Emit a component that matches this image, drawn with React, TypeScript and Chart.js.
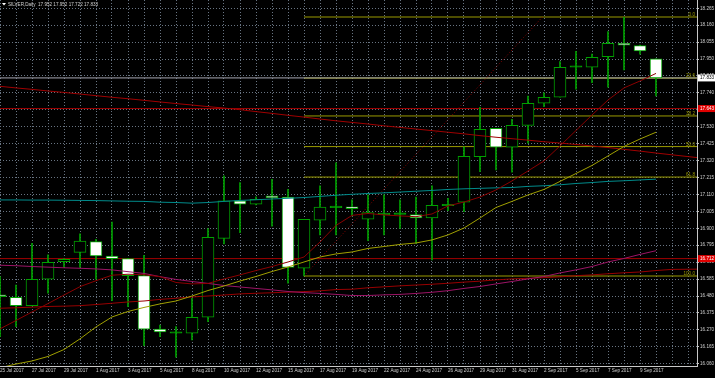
import React, { useEffect, useRef } from 'react';
import { Chart, registerables } from 'chart.js';

Chart.register(...registerables);

const SYMBOL = 'SILVER,Daily';

const DATES = [
  '25 Jul 2017', '26 Jul 2017', '27 Jul 2017', '28 Jul 2017', '29 Jul 2017', '31 Jul 2017',
  '1 Aug 2017', '2 Aug 2017', '3 Aug 2017', '4 Aug 2017', '5 Aug 2017', '7 Aug 2017',
  '8 Aug 2017', '9 Aug 2017', '10 Aug 2017', '11 Aug 2017', '12 Aug 2017', '14 Aug 2017',
  '15 Aug 2017', '16 Aug 2017', '17 Aug 2017', '18 Aug 2017', '19 Aug 2017', '21 Aug 2017',
  '22 Aug 2017', '23 Aug 2017', '24 Aug 2017', '25 Aug 2017', '26 Aug 2017', '28 Aug 2017',
  '29 Aug 2017', '30 Aug 2017', '31 Aug 2017', '1 Sep 2017', '2 Sep 2017', '4 Sep 2017',
  '5 Sep 2017', '6 Sep 2017', '7 Sep 2017', '8 Sep 2017', '9 Sep 2017', '11 Sep 2017',
];
const LAST_LABELED_BAR = 40;

const OPEN = [
  16.487, 16.472, 16.420, 16.584, 16.693, 16.751, 16.817, 16.727, 16.712, 16.606,
  16.274, 16.249, 16.249, 16.348, 16.838, 17.071, 17.049, 17.101, 17.093, 16.652,
  16.950, 17.028, 17.034, 16.956, 16.985, 16.986, 16.985, 16.964, 17.040, 17.062,
  17.344, 17.521, 17.403, 17.539, 17.676, 17.713, 17.899, 17.899, 17.965, 18.048,
  18.033, 17.952,
];
const HIGH = [
  16.600, 16.547, 16.807, 16.736, 16.712, 16.865, 16.832, 16.939, 16.714, 16.733,
  16.300, 16.290, 16.466, 16.898, 17.225, 17.183, 17.096, 17.204, 17.142, 16.956,
  17.163, 17.307, 17.076, 17.107, 17.107, 17.076, 17.093, 17.163, 17.086, 17.406,
  17.651, 17.521, 17.576, 17.721, 17.741, 17.934, 17.998, 17.981, 18.120, 18.209,
  18.037, 17.952,
];
const LOW = [
  16.228, 16.290, 16.418, 16.497, 16.658, 16.658, 16.584, 16.451, 16.414, 16.172,
  16.228, 16.100, 16.207, 16.321, 16.803, 16.873, 17.045, 16.914, 16.559, 16.604,
  16.859, 16.859, 16.977, 16.823, 16.859, 16.900, 16.807, 16.704, 17.009, 17.003,
  17.251, 17.262, 17.248, 17.428, 17.655, 17.713, 17.764, 17.803, 17.775, 17.882,
  17.981, 17.722,
];
const CLOSE = [
  16.476, 16.420, 16.584, 16.689, 16.708, 16.820, 16.728, 16.712, 16.606, 16.274,
  16.257, 16.252, 16.348, 16.844, 17.071, 17.049, 17.080, 17.090, 16.658, 16.956,
  17.031, 17.034, 17.022, 16.997, 16.993, 16.990, 16.964, 17.043, 17.049, 17.347,
  17.514, 17.403, 17.539, 17.676, 17.713, 17.899, 17.907, 17.961, 18.048, 18.037,
  18.000, 17.833,
];

// moving averages (one value per bar)
const MA_LONG_RED = [
  17.781, 17.771, 17.762, 17.752, 17.743, 17.733, 17.723, 17.713, 17.704, 17.694,
  17.684, 17.674, 17.665, 17.655, 17.646, 17.636, 17.624, 17.613, 17.601, 17.590,
  17.578, 17.567, 17.557, 17.547, 17.536, 17.526, 17.516, 17.506, 17.496, 17.486,
  17.475, 17.465, 17.456, 17.447, 17.437, 17.429, 17.420, 17.411, 17.401, 17.390,
  17.379, 17.367, 17.356, 17.345, 17.334,
];
const MA_TEAL = [
  17.076, 17.076, 17.075, 17.075, 17.074, 17.073, 17.072, 17.070, 17.068, 17.067,
  17.062, 17.060, 17.056, 17.060, 17.067, 17.073, 17.077, 17.082, 17.086, 17.091,
  17.098, 17.105, 17.111, 17.116, 17.120, 17.125, 17.130, 17.135, 17.141, 17.145,
  17.148, 17.151, 17.153, 17.160, 17.164, 17.170, 17.178, 17.184, 17.191, 17.195,
  17.200, 17.205,
];
const MA_MAGENTA = [
  16.671, 16.668, 16.663, 16.659, 16.655, 16.652, 16.648, 16.642, 16.631, 16.620,
  16.600, 16.583, 16.570, 16.558, 16.545, 16.536, 16.527, 16.518, 16.508, 16.501,
  16.496, 16.490, 16.483, 16.483, 16.487, 16.490, 16.496, 16.503, 16.513, 16.527,
  16.539, 16.555, 16.570, 16.586, 16.601, 16.623, 16.642, 16.663, 16.691, 16.713,
  16.738, 16.761,
];
const MA_SLOW_RED = [
  16.404, 16.407, 16.411, 16.415, 16.417, 16.420, 16.427, 16.435, 16.443, 16.449,
  16.459, 16.466, 16.474, 16.480, 16.486, 16.493, 16.497, 16.500, 16.504, 16.507,
  16.512, 16.520, 16.522, 16.531, 16.537, 16.543, 16.548, 16.553, 16.559, 16.566,
  16.572, 16.580, 16.586, 16.590, 16.594, 16.599, 16.606, 16.611, 16.618, 16.624,
  16.629, 16.638, 16.645, 16.646, 16.647,
];
const MA_FAST_RED = [
  16.276, 16.328, 16.381, 16.433, 16.486, 16.538, 16.575, 16.609, 16.615, 16.612,
  16.600, 16.564, 16.555, 16.558, 16.586, 16.611, 16.638, 16.663, 16.691, 16.722,
  16.815, 16.918, 16.980, 16.992, 16.983, 16.977, 16.972, 16.989, 17.039, 17.063,
  17.094, 17.138, 17.194, 17.256, 17.318, 17.411, 17.507, 17.603, 17.696, 17.771,
  17.814, 17.861,
];
const MA_YELLOW = [
  16.034, 16.058, 16.077, 16.105, 16.148, 16.214, 16.288, 16.350, 16.384, 16.409,
  16.431, 16.449, 16.480, 16.514, 16.542, 16.573, 16.601, 16.632, 16.660, 16.691,
  16.722, 16.741, 16.753, 16.775, 16.787, 16.800, 16.809, 16.828, 16.859, 16.902,
  16.964, 17.029, 17.067, 17.107, 17.141, 17.191, 17.240, 17.290, 17.349, 17.408,
  17.454, 17.496,
];

const Y_TICKS = [
  16.060, 16.165, 16.270, 16.375, 16.480, 16.585, 16.690, 16.795, 16.900, 17.005, 17.110,
  17.215, 17.320, 17.425, 17.530, 17.635, 17.740, 17.845, 17.950, 18.055, 18.160, 18.265,
];

const FIB_LABELS = ['0.0', '23.6', '38.2', '50.0', '61.8', '100.0'];
const FIB_PRICES = [18.211, 17.832, 17.597, 17.407, 17.218, 16.604];
const FIB_START_BAR = 19;
const FIB_BASE_BARS = [19, 33.9];
const FIB_BASE_PRICES = [16.604, 18.211];
const RED_LEVELS = [17.643, 16.712];

// view
const Y_MIN = 16.0457;
const Y_MAX = 18.3165;
const X_MIN = 0;
const X_MAX = 43.5625;
const GRID_BAR_COUNT = 44;

const FONT = '"Liberation Sans", Arial, sans-serif';
const FONT_SIZE = 4.6;
const BG = '#000000';
const GRID = '#687482';
const AXIS = '#c8c8c8';
const TEXT = '#d0d0d0';
const CANDLE = '#00a000';
const FIB_COLOR = '#9a9a00';

export default function App() {
  const ref = useRef<HTMLCanvasElement>(null);

  useEffect(() => {
    const canvas = ref.current;
    if (!canvas) return;
    const last = CLOSE.length - 1;

    const series = (values: number[], color: string, order: number) => ({
      type: 'line',
      data: values.map((v, i) => ({ x: i, y: v })),
      borderColor: color,
      borderWidth: 1,
      pointRadius: 0,
      tension: 0,
      fill: false,
      order,
    });
    const hline = (price: number, x0: number, x1: number, color: string, order: number) => ({
      type: 'line',
      data: [{ x: x0, y: price }, { x: x1, y: price }],
      borderColor: color,
      borderWidth: 1,
      pointRadius: 0,
      fill: false,
      order,
      clip: 0,
    });

    const bodyColors = OPEN.map((o, i) => {
      const d = CLOSE[i] - o;
      if (Math.abs(d) < 0.01) return CANDLE;
      return d > 0 ? '#000000' : '#ffffff';
    });

    const datasets: any[] = [
      hline(CLOSE[last], -1, 46, '#a8a8b4', 30),
      ...RED_LEVELS.map((p) => hline(p, -1, 46, '#a00000', 30)),
      ...FIB_PRICES.map((p) => hline(p, FIB_START_BAR, 46, FIB_COLOR, 30)),
      {
        type: 'line',
        data: FIB_BASE_BARS.map((b, i) => ({ x: b, y: FIB_BASE_PRICES[i] })),
        borderColor: '#8b0000',
        borderWidth: 1,
        borderDash: [1, 2],
        pointRadius: 0,
        fill: false,
        order: 29,
      },
      {
        type: 'bar',
        data: LOW.map((l, i) => ({ x: i, y: [l, HIGH[i]] })),
        backgroundColor: CANDLE,
        borderWidth: 0,
        barThickness: 1,
        grouped: false,
        order: 21,
      },
      {
        type: 'bar',
        data: OPEN.map((o, i) => ({ x: i, y: [o, CLOSE[i]] })),
        backgroundColor: bodyColors,
        borderColor: CANDLE,
        borderWidth: 1,
        borderSkipped: false,
        barThickness: 12,
        minBarLength: 1.5,
        grouped: false,
        order: 20,
      },
      series(MA_LONG_RED, '#a00000', 5),
      series(MA_TEAL, '#008b8b', 5),
      series(MA_MAGENTA, '#9c1466', 5),
      series(MA_SLOW_RED, '#980000', 5),
      series(MA_FAST_RED, '#8b0000', 4),
      series(MA_YELLOW, '#a0a000', 4),
    ];

    const overlay = {
      id: 'overlay',
      beforeDraw(chart: any) {
        const { ctx, width, height } = chart;
        ctx.save();
        ctx.fillStyle = BG;
        ctx.fillRect(0, 0, width, height);
        ctx.restore();
      },
      afterDraw(chart: any) {
        const { ctx, chartArea } = chart;
        const ys = chart.scales.y;
        ctx.save();
        ctx.font = `${FONT_SIZE}px ${FONT}`;
        // fibo level labels
        ctx.fillStyle = FIB_COLOR;
        ctx.textAlign = 'right';
        ctx.textBaseline = 'alphabetic';
        FIB_PRICES.forEach((p, i) => {
          ctx.fillText(FIB_LABELS[i], chartArea.right - 2, ys.getPixelForValue(p) - 1);
        });
        // price boxes on the axis
        const box = (price: number, bg: string, fg: string) => {
          const py = ys.getPixelForValue(price);
          ctx.fillStyle = bg;
          ctx.fillRect(chartArea.right + 1, py - 3.5, chart.width - chartArea.right - 1, 7);
          ctx.fillStyle = fg;
          ctx.textAlign = 'left';
          ctx.textBaseline = 'middle';
          ctx.fillText(price.toFixed(3), chartArea.right + 3, py);
        };
        box(CLOSE[last], '#ffffff', '#000000');
        RED_LEVELS.forEach((p) => box(p, '#e00000', '#ffffff'));
        // header
        ctx.fillStyle = '#ffffff';
        ctx.beginPath();
        ctx.moveTo(2, 3);
        ctx.lineTo(6, 3);
        ctx.lineTo(4, 5.5);
        ctx.closePath();
        ctx.fill();
        ctx.fillStyle = TEXT;
        ctx.textAlign = 'left';
        ctx.textBaseline = 'middle';
        const header = `${SYMBOL}  ${OPEN[last].toFixed(3)} ${HIGH[last].toFixed(3)} ${LOW[last].toFixed(3)} ${CLOSE[last].toFixed(3)}`;
        ctx.fillText(header, 8, 4.5);
        ctx.restore();
      },
    };

    const chart = new Chart(canvas, {
      type: 'bar',
      data: { datasets },
      options: {
        animation: false,
        responsive: false,
        devicePixelRatio: 1,
        layout: { padding: 0 },
        plugins: { legend: { display: false }, tooltip: { enabled: false }, title: { display: false } },
        events: [],
        scales: {
          x: {
            type: 'linear',
            min: X_MIN,
            max: X_MAX,
            offset: false,
            grid: { color: GRID, lineWidth: 1, drawTicks: false, offset: false },
            border: { display: true, color: AXIS, dash: [1, 2] },
            afterBuildTicks: (scale: any) => {
              scale.ticks = Array.from({ length: GRID_BAR_COUNT }, (_, k) => ({ value: k }));
            },
            afterFit: (scale: any) => {
              scale.height = 12;
              scale.paddingLeft = 0;
              scale.paddingRight = 0;
            },
            ticks: {
              autoSkip: false,
              maxRotation: 0,
              minRotation: 0,
              align: 'start',
              padding: 2,
              color: TEXT,
              font: { family: FONT, size: FONT_SIZE },
              callback: (value: any) => {
                const k = Math.round(Number(value));
                return k % 2 === 0 && k <= LAST_LABELED_BAR ? DATES[k] : '';
              },
            },
          },
          y: {
            type: 'linear',
            position: 'right',
            min: Y_MIN,
            max: Y_MAX,
            grid: { color: GRID, lineWidth: 1, drawTicks: true, tickLength: 2, tickColor: AXIS },
            border: { display: true, color: AXIS, dash: [1, 2] },
            afterBuildTicks: (scale: any) => {
              scale.ticks = Y_TICKS.map((v) => ({ value: v }));
            },
            afterFit: (scale: any) => {
              scale.width = 18;
              scale.paddingTop = 0;
              scale.paddingBottom = 0;
            },
            ticks: {
              autoSkip: false,
              padding: 1,
              color: TEXT,
              font: { family: FONT, size: FONT_SIZE },
              callback: (value: any) => Number(value).toFixed(3),
            },
          },
        },
      } as any,
      plugins: [overlay],
    } as any);

    return () => chart.destroy();
  }, []);

  return (
    <div style={{ position: 'fixed', left: 0, top: 0, width: 715, height: 378, background: BG }}>
      <canvas ref={ref} width={715} height={378} style={{ display: 'block' }} />
    </div>
  );
}
